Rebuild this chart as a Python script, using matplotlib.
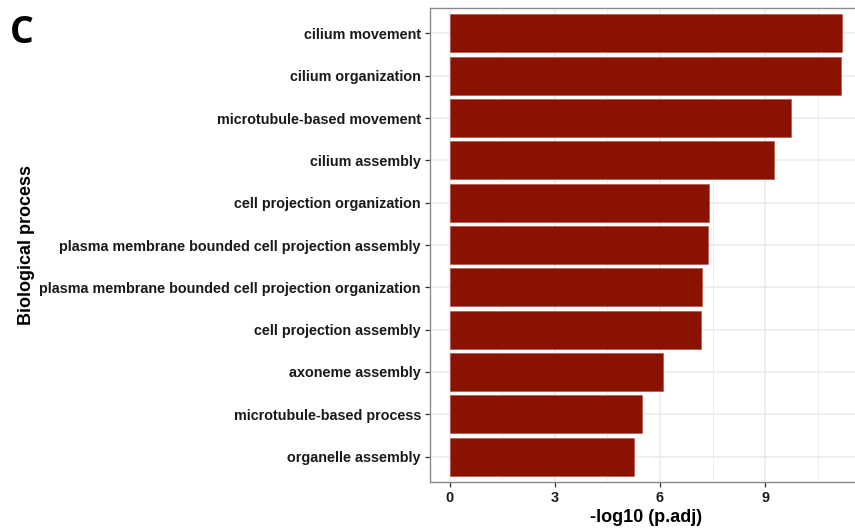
import matplotlib
matplotlib.use("Agg")
import matplotlib.pyplot as plt
from matplotlib.ticker import MultipleLocator

# GO enrichment: biological processes ranked by adjusted significance
terms = [
    "cilium movement",
    "cilium organization",
    "microtubule-based movement",
    "cilium assembly",
    "cell projection organization",
    "plasma membrane bounded cell projection assembly",
    "plasma membrane bounded cell projection organization",
    "cell projection assembly",
    "axoneme assembly",
    "microtubule-based process",
    "organelle assembly",
]
neg_log10_padj = [11.19, 11.16, 9.75, 9.25, 7.39, 7.36, 7.21, 7.16, 6.09, 5.48, 5.26]
x_ticks = [0, 3, 6, 9]

bar_color = "#8B1100"
grid_color = "#EBEBEB"
border_color = "#8A8A8A"

W, H = 855, 529
fig = plt.figure(figsize=(W / 100, H / 100), dpi=100)
plt.rcParams["font.family"] = ["Liberation Sans", "DejaVu Sans"]

left, right, top, bottom = 430, 861.5, 8, 482
ax = fig.add_axes([left / W, 1 - bottom / H, (right - left) / W, (bottom - top) / H])

n = len(terms)
ypos = list(range(n))
ax.barh(ypos, neg_log10_padj, height=0.9, color=bar_color,
        edgecolor="#B04A40", linewidth=0.4, zorder=3)

# ggplot-like expansion
xmax = max(neg_log10_padj)
ax.set_xlim(-0.05 * xmax, xmax * 1.05)
ax.set_ylim(n - 1 + 0.6, -0.6)

ax.set_xticks(x_ticks)
ax.xaxis.set_minor_locator(MultipleLocator(1.5))
ax.set_yticks(ypos)
ax.set_yticklabels(terms)

ax.grid(True, which="major", color=grid_color, linewidth=1.1, zorder=0)
ax.grid(True, which="minor", axis="x", color=grid_color, linewidth=0.6, zorder=0)
ax.set_axisbelow(True)

for s in ax.spines.values():
    s.set_color(border_color)
    s.set_linewidth(1.0)

ax.tick_params(axis="both", which="major", length=3.5, width=0.9, color="#333333",
               labelsize=10.4, labelcolor="#1a1a1a", pad=3)
ax.tick_params(axis="x", which="minor", length=0)
for lbl in ax.get_xticklabels() + ax.get_yticklabels():
    lbl.set_fontweight("bold")

ax.set_xlabel("-log10 (p.adj)", fontsize=13, fontweight="bold", labelpad=3)
ax.set_ylabel("Biological process", fontsize=13, fontweight="bold", labelpad=3)

fig.text(10 / W, 1 - 33 / H, "C", fontsize=27, fontweight="bold",
         family=["Open Sans", "DejaVu Sans"], va="center", ha="left")

fig.savefig("out.png", dpi=100)
